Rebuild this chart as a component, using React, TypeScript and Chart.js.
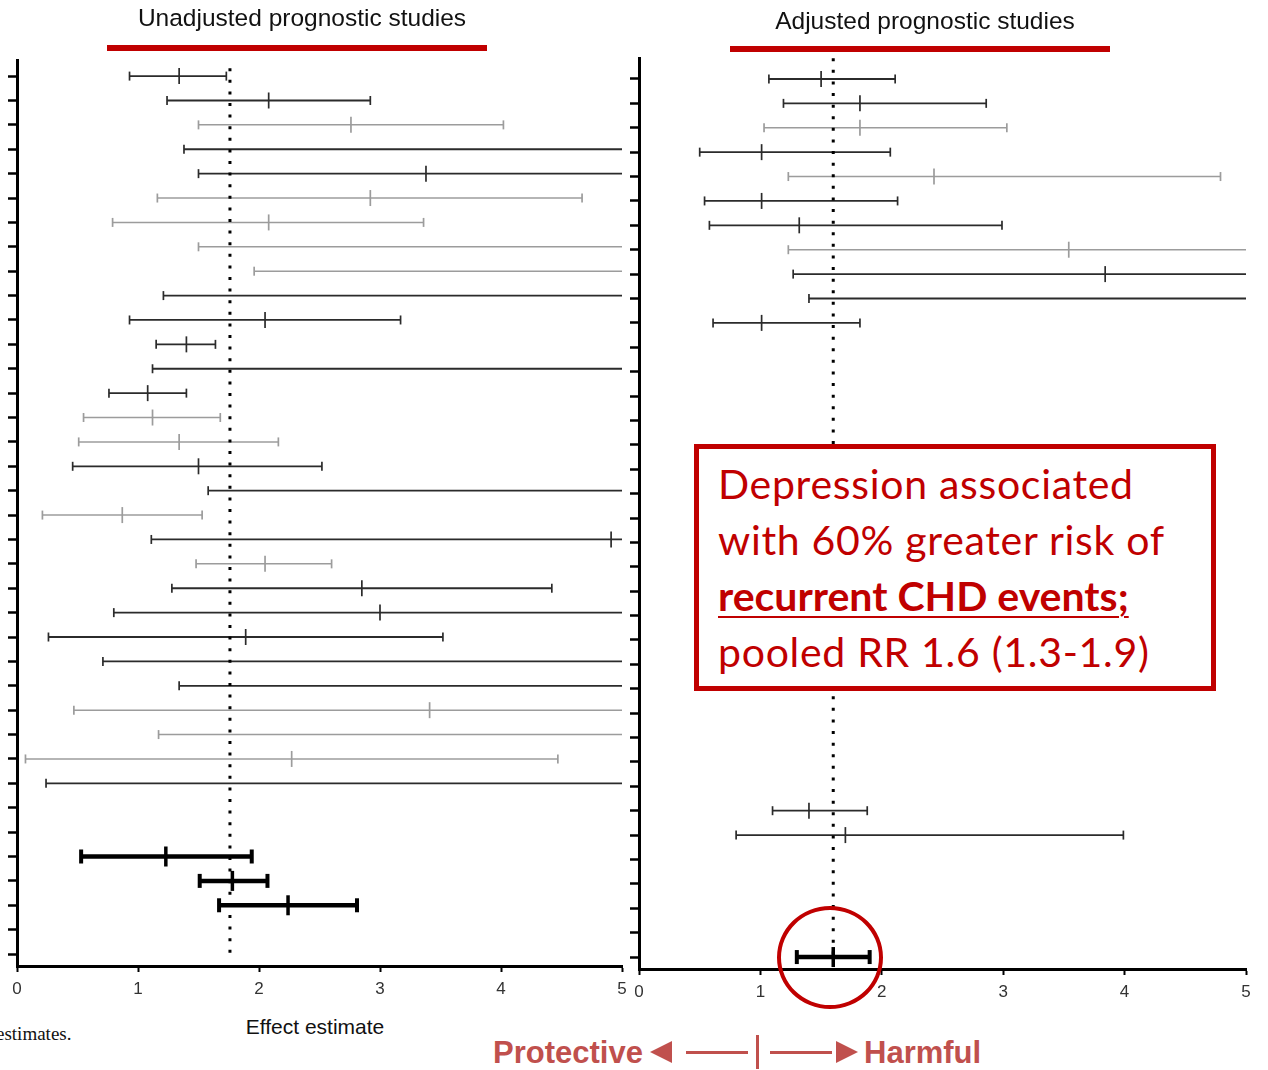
import React, { useEffect, useRef } from "react";
import { Chart, registerables } from "chart.js";

Chart.register(...registerables);

// ---------- data ----------
const X_MIN = 0;
const X_MAX = 5;
const xTickValues = [0, 1, 2, 3, 4, 5];
const rowSlots = [0, 1, 2, 3, 4, 5, 6, 7, 8, 9, 10, 11, 12, 13, 14, 15, 16, 17, 18, 19, 20, 21, 22, 23, 24, 25, 26, 27, 28, 29, 30, 31, 32, 33, 34, 35, 36];

// Unadjusted prognostic studies (null = off scale, beyond 5)
const unadjRows = [0, 1, 2, 3, 4, 5, 6, 7, 8, 9, 10, 11, 12, 13, 14, 15, 16, 17, 18, 19, 20, 21, 22, 23, 24, 25, 26, 27, 28, 29];
const unadjLower = [0.93, 1.24, 1.5, 1.38, 1.5, 1.16, 0.79, 1.5, 1.96, 1.21, 0.93, 1.15, 1.12, 0.76, 0.55, 0.51, 0.46, 1.58, 0.21, 1.11, 1.48, 1.28, 0.8, 0.26, 0.71, 1.34, 0.47, 1.17, 0.07, 0.24];
const unadjEstimate = [1.34, 2.08, 2.76, null, 3.38, 2.92, 2.08, null, null, null, 2.05, 1.4, null, 1.08, 1.12, 1.34, 1.5, null, 0.87, 4.91, 2.05, 2.85, 3.0, 1.89, null, null, 3.41, null, 2.27, null];
const unadjUpper = [1.73, 2.92, 4.02, null, null, 4.67, 3.36, null, null, null, 3.17, 1.64, null, 1.4, 1.68, 2.16, 2.52, null, 1.53, null, 2.6, 4.42, null, 3.52, null, null, null, null, 4.47, null];
const unadjPooledRows = [32, 33, 34];
const unadjPooledLower = [0.53, 1.51, 1.67];
const unadjPooledEstimate = [1.23, 1.78, 2.24];
const unadjPooledUpper = [1.94, 2.07, 2.81];
const unadjReference = 1.76;

// Adjusted prognostic studies
const adjRows = [0, 1, 2, 3, 4, 5, 6, 7, 8, 9, 10, 30, 31];
const adjLower = [1.07, 1.19, 1.03, 0.5, 1.23, 0.54, 0.58, 1.23, 1.27, 1.4, 0.61, 1.1, 0.8];
const adjEstimate = [1.5, 1.82, 1.82, 1.01, 2.43, 1.01, 1.32, 3.54, 3.84, null, 1.01, 1.4, 1.7];
const adjUpper = [2.11, 2.86, 3.03, 2.07, 4.79, 2.13, 2.99, null, null, null, 1.82, 1.88, 3.99];
const adjPooledRows = [36];
const adjPooledLower = [1.3];
const adjPooledEstimate = [1.6];
const adjPooledUpper = [1.9];
const adjReference = 1.6;

// ---------- styling (not data) ----------
const unadjShade = ["d", "d", "l", "d", "d", "l", "l", "l", "l", "d", "d", "d", "d", "d", "l", "l", "d", "d", "l", "d", "l", "d", "d", "d", "d", "d", "l", "l", "l", "d"];
const adjShade = ["d", "d", "l", "d", "l", "d", "d", "l", "d", "d", "d", "d", "d"];
const DARK = "#2b2b2b";
const LIGHT = "#9c9c9c";
const RED = "#C00000";
const SOFT_RED = "#C0504D";

type Panel = {
  rows: number[];
  lower: number[];
  est: (number | null)[];
  upper: (number | null)[];
  shade: string[];
  pRows: number[];
  pLower: number[];
  pEst: number[];
  pUpper: number[];
  ref: number;
  refFrom: number;
  refTo: number;
  yMin: number;
  yMax: number;
  padding: { left: number; right: number; top: number; bottom: number };
};

function col(s: string) {
  return s === "l" ? LIGHT : DARK;
}

function buildDatasets(p: Panel) {
  const ds: any[] = [];
  ds.push({
    data: [
      { x: p.ref, y: p.refFrom },
      { x: p.ref, y: p.refTo },
    ],
    showLine: true,
    borderColor: "#000",
    borderWidth: 3,
    borderDash: [3, 8.6],
    borderCapStyle: "butt",
    pointRadius: 0,
    order: 0,
  });
  // estimates
  const estPts: any[] = [];
  const estCol: string[] = [];
  p.rows.forEach((r, i) => {
    const e = p.est[i];
    if (e != null) {
      estPts.push({ x: e, y: r });
      estCol.push(col(p.shade[i]));
    }
  });
  ds.push({
    data: estPts,
    showLine: false,
    pointStyle: "line",
    pointRotation: 90,
    pointRadius: 8,
    pointBorderWidth: 1.7,
    pointBorderColor: estCol,
    order: 1,
  });
  // caps
  const capPts: any[] = [];
  const capCol: string[] = [];
  p.rows.forEach((r, i) => {
    capPts.push({ x: p.lower[i], y: r });
    capCol.push(col(p.shade[i]));
    const u = p.upper[i];
    if (u != null) {
      capPts.push({ x: u, y: r });
      capCol.push(col(p.shade[i]));
    }
  });
  ds.push({
    data: capPts,
    showLine: false,
    pointStyle: "line",
    pointRotation: 90,
    pointRadius: 4.5,
    pointBorderWidth: 1.7,
    pointBorderColor: capCol,
    order: 2,
  });
  // horizontal CI lines
  p.rows.forEach((r, i) => {
    const u = p.upper[i];
    ds.push({
      data: [
        { x: p.lower[i], y: r },
        { x: u != null ? u : X_MAX, y: r },
      ],
      showLine: true,
      borderColor: col(p.shade[i]),
      borderWidth: p.shade[i] === "l" ? 1.5 : 1.8,
      pointRadius: 0,
      order: 3,
    });
  });
  // pooled estimates (thick)
  const pEstPts: any[] = [];
  const pCapPts: any[] = [];
  p.pRows.forEach((r, i) => {
    pEstPts.push({ x: p.pEst[i], y: r });
    pCapPts.push({ x: p.pLower[i], y: r });
    pCapPts.push({ x: p.pUpper[i], y: r });
    ds.push({
      data: [
        { x: p.pLower[i], y: r },
        { x: p.pUpper[i], y: r },
      ],
      showLine: true,
      borderColor: "#000",
      borderWidth: 4.5,
      pointRadius: 0,
      order: 3,
    });
  });
  ds.push({
    data: pEstPts,
    showLine: false,
    pointStyle: "line",
    pointRotation: 90,
    pointRadius: 10,
    pointBorderWidth: 3.5,
    pointBorderColor: "#000",
    order: 1,
  });
  ds.push({
    data: pCapPts,
    showLine: false,
    pointStyle: "line",
    pointRotation: 90,
    pointRadius: 7,
    pointBorderWidth: 4,
    pointBorderColor: "#000",
    order: 2,
  });
  return ds;
}

function ForestPanel({ panel, width, height }: { panel: Panel; width: number; height: number }) {
  const ref = useRef<HTMLCanvasElement | null>(null);
  useEffect(() => {
    if (!ref.current) return;
    const chart = new Chart(ref.current, {
      type: "scatter",
      data: { datasets: buildDatasets(panel) },
      options: {
        animation: false,
        responsive: false,
        maintainAspectRatio: false,
        events: [],
        layout: { padding: panel.padding },
        plugins: { legend: { display: false }, tooltip: { enabled: false } },
        scales: {
          x: {
            type: "linear",
            min: X_MIN,
            max: X_MAX,
            afterBuildTicks: (s: any) => {
              s.ticks = xTickValues.map((v) => ({ value: v }));
            },
            afterFit: (s: any) => {
              s.height = 40;
            },
            grid: { drawOnChartArea: false, drawTicks: true, tickLength: 6, tickWidth: 2, tickColor: "#000" },
            border: { display: true, color: "#000", width: 3 },
            ticks: {
              padding: 7,
              color: "#333",
              font: { family: "'Liberation Sans', Arial, sans-serif", size: 17 },
              maxRotation: 0,
              autoSkip: false,
            },
          },
          y: {
            type: "linear",
            reverse: true,
            min: panel.yMin,
            max: panel.yMax,
            afterBuildTicks: (s: any) => {
              s.ticks = rowSlots.map((v) => ({ value: v }));
            },
            afterFit: (s: any) => {
              s.width = 9;
            },
            grid: { drawOnChartArea: false, drawTicks: true, tickLength: 9, tickWidth: 2.5, tickColor: "#000" },
            border: { display: true, color: "#000", width: 3 },
            ticks: { display: false },
          },
        },
      } as any,
    });
    return () => chart.destroy();
  }, []);
  return <canvas ref={ref} width={width} height={height} style={{ width, height, display: "block" }} />;
}

const leftPanel: Panel = {
  rows: unadjRows,
  lower: unadjLower,
  est: unadjEstimate,
  upper: unadjUpper,
  shade: unadjShade,
  pRows: unadjPooledRows,
  pLower: unadjPooledLower,
  pEst: unadjPooledEstimate,
  pUpper: unadjPooledUpper,
  ref: unadjReference,
  refFrom: -0.8,
  refTo: 36.2,
  yMin: -0.66,
  yMax: 36.49,
  padding: { left: 8, right: 14, top: 60, bottom: 4 },
};

const rightPanel: Panel = {
  rows: adjRows,
  lower: adjLower,
  est: adjEstimate,
  upper: adjUpper,
  shade: adjShade,
  pRows: adjPooledRows,
  pLower: adjPooledLower,
  pEst: adjPooledEstimate,
  pUpper: adjPooledUpper,
  ref: adjReference,
  refFrom: -0.85,
  refTo: 36,
  yMin: -0.86,
  yMax: 36.49,
  padding: { left: 10, right: 22, top: 58, bottom: 1 },
};

const abs = (s: React.CSSProperties): React.CSSProperties => ({ position: "absolute", ...s });

export default function App() {
  const sans = "'Liberation Sans', Arial, sans-serif";
  return (
    <div style={{ position: "fixed", left: 0, top: 0, width: 1268, height: 1070, background: "#fff", overflow: "hidden" }}>
      <div style={abs({ left: 0, top: 0 })}>
        <ForestPanel panel={leftPanel} width={636} height={1010} />
      </div>
      <div style={abs({ left: 620, top: 0 })}>
        <ForestPanel panel={rightPanel} width={648} height={1010} />
      </div>

      {/* titles */}
      <div style={abs({ left: 102, width: 400, top: 3, textAlign: "center", fontFamily: sans, fontSize: 24.5, lineHeight: "30px", color: "#111", whiteSpace: "nowrap" })}>
        Unadjusted prognostic studies
      </div>
      <div style={abs({ left: 107, top: 45, width: 380, height: 6, background: RED })} />
      <div style={abs({ left: 725, width: 400, top: 6, textAlign: "center", fontFamily: sans, fontSize: 24.5, lineHeight: "30px", color: "#111", whiteSpace: "nowrap" })}>
        Adjusted prognostic studies
      </div>
      <div style={abs({ left: 730, top: 46, width: 380, height: 6, background: RED })} />

      {/* annotation box */}
      <div
        style={abs({
          left: 694,
          top: 444,
          width: 522,
          height: 247,
          boxSizing: "border-box",
          border: `5px solid ${RED}`,
          background: "#fff",
          padding: "7px 0 0 19px",
          fontFamily: "Lato, 'Open Sans', sans-serif",
          fontSize: 41,
          letterSpacing: 0.7,
          lineHeight: "56px",
          color: RED,
          whiteSpace: "nowrap",
        })}
      >
        <div>Depression associated</div>
        <div>with 60% greater risk of</div>
        <div style={{ fontWeight: 700, letterSpacing: 0, textDecoration: "underline", textDecorationThickness: 2, textUnderlineOffset: 5 }}>recurrent CHD events;</div>
        <div>pooled RR 1.6 (1.3-1.9)</div>
      </div>

      {/* circle around pooled estimate */}
      <div style={abs({ left: 777, top: 906, width: 106, height: 103, boxSizing: "border-box", border: `4px solid ${RED}`, borderRadius: "50%" })} />

      {/* bottom texts */}
      <div style={abs({ left: -4, top: 1023, fontFamily: "'Liberation Serif', 'Times New Roman', serif", fontSize: 19, color: "#111" })}>
        estimates.
      </div>
      <div style={abs({ left: 215, width: 200, top: 1015, textAlign: "center", fontFamily: sans, fontSize: 21, color: "#111" })}>
        Effect estimate
      </div>

      <div style={abs({ left: 493, top: 1037, fontFamily: sans, fontWeight: 700, fontSize: 31, lineHeight: "31px", color: SOFT_RED })}>Protective</div>
      <div style={abs({ left: 650, top: 1041, width: 0, height: 0, borderTop: "11px solid transparent", borderBottom: "11px solid transparent", borderRight: `22px solid ${SOFT_RED}` })} />
      <div style={abs({ left: 686, top: 1051, width: 62, height: 3, background: SOFT_RED })} />
      <div style={abs({ left: 756, top: 1035, width: 3, height: 34, background: SOFT_RED })} />
      <div style={abs({ left: 770, top: 1051, width: 62, height: 3, background: SOFT_RED })} />
      <div style={abs({ left: 836, top: 1041, width: 0, height: 0, borderTop: "11px solid transparent", borderBottom: "11px solid transparent", borderLeft: `22px solid ${SOFT_RED}` })} />
      <div style={abs({ left: 864, top: 1037, fontFamily: sans, fontWeight: 700, fontSize: 31, lineHeight: "31px", color: SOFT_RED })}>Harmful</div>
    </div>
  );
}
